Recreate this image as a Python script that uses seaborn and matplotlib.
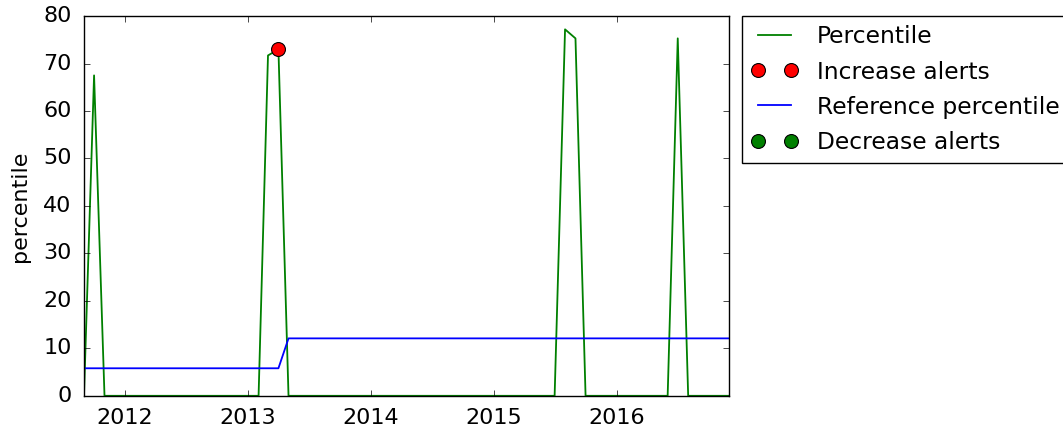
import matplotlib
matplotlib.use("Agg")
import matplotlib.pyplot as plt
import matplotlib.dates as mdates
import numpy as np
import pandas as pd
import seaborn as sns

# ---- data ----
months = pd.date_range("2011-09-01", "2016-12-01", freq="MS")
percentile = [
    0, 67.5, 0, 0,                                               # 2011 Sep-Dec
    0, 0, 0, 0, 0, 0, 0, 0, 0, 0, 0, 0,                          # 2012
    0, 0, 71.7, 73.0, 0, 0, 0, 0, 0, 0, 0, 0,                    # 2013
    0, 0, 0, 0, 0, 0, 0, 0, 0, 0, 0, 0,                          # 2014
    0, 0, 0, 0, 0, 0, 0, 77.2, 75.3, 0, 0, 0,                    # 2015
    0, 0, 0, 0, 0, 0, 75.3, 0, 0, 0, 0, 0,                       # 2016
]
reference = [
    5.8, 5.8, 5.8, 5.8,
    5.8, 5.8, 5.8, 5.8, 5.8, 5.8, 5.8, 5.8, 5.8, 5.8, 5.8, 5.8,
    5.8, 5.8, 5.8, 5.8, 12.1, 12.1, 12.1, 12.1, 12.1, 12.1, 12.1, 12.1,
    12.1, 12.1, 12.1, 12.1, 12.1, 12.1, 12.1, 12.1, 12.1, 12.1, 12.1, 12.1,
    12.1, 12.1, 12.1, 12.1, 12.1, 12.1, 12.1, 12.1, 12.1, 12.1, 12.1, 12.1,
    12.1, 12.1, 12.1, 12.1, 12.1, 12.1, 12.1, 12.1, 12.1, 12.1, 12.1, 12.1,
]
increase_dates = pd.to_datetime(["2013-04-01"])
increase_values = [73.0]
decrease_dates = pd.to_datetime([])
decrease_values = []

plt.style.use("classic")
plt.rcParams["font.family"] = ["DejaVu Sans"]
FS = 16
plt.rcParams["font.size"] = FS

fig = plt.figure(figsize=(10.63, 4.34), dpi=100, facecolor="white")
ax = fig.add_axes([0.079, 0.088, 0.607, 0.875])
ax.set_facecolor("white")

sns.lineplot(x=months, y=percentile, ax=ax, color="g", linewidth=1.3,
             label="Percentile")
ax.plot(increase_dates, increase_values, "o", color="r", markersize=10,
        markeredgecolor="black", markeredgewidth=0.8, label="Increase alerts",
        zorder=5)
sns.lineplot(x=months, y=reference, ax=ax, color="b", linewidth=1.3,
             label="Reference percentile")
ax.plot(decrease_dates, decrease_values, "o", color="g", markersize=10,
        markeredgecolor="black", markeredgewidth=0.8, label="Decrease alerts")

ax.set_xlim(months[0], months[-1])
ax.set_ylim(0, 80)
ax.set_yticks(np.arange(0, 81, 10))
ax.xaxis.set_major_locator(mdates.YearLocator())
ax.xaxis.set_major_formatter(mdates.DateFormatter("%Y"))
ax.set_ylabel("percentile", fontsize=FS, labelpad=9)
ax.set_xlabel("")
ax.tick_params(direction="in", top=True, right=True, labelsize=FS, pad=9)

ax.legend(loc="upper left", bbox_to_anchor=(1.02, 1), borderaxespad=0,
          numpoints=2, fontsize=16.8, frameon=True, fancybox=False,
          edgecolor="black", handlelength=2.0, handletextpad=0.8,
          borderpad=0.4, labelspacing=0.52)

fig.savefig("out.png", dpi=100, facecolor="white")
